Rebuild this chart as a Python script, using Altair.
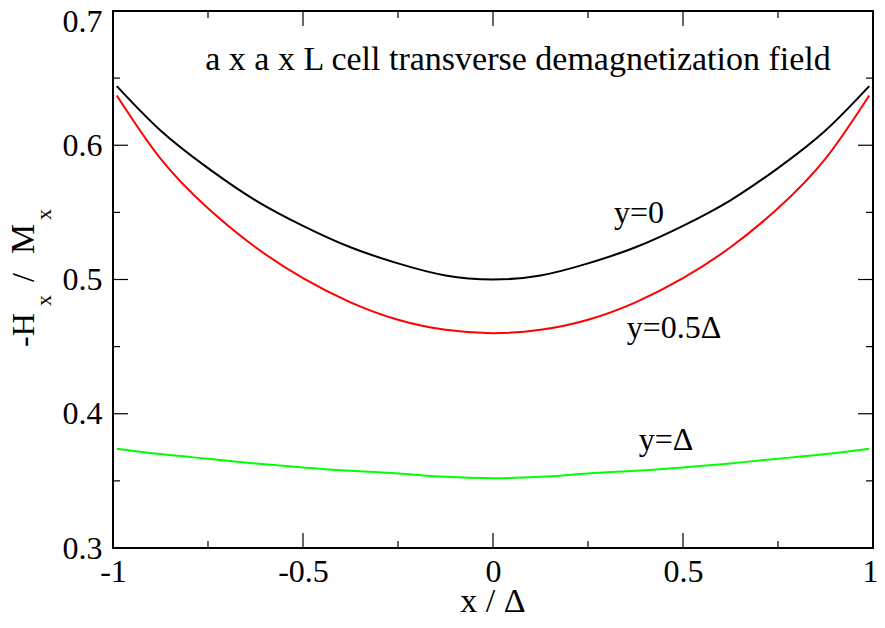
import altair as alt
import pandas as pd

# ---- data ----
x_pts = [-0.99, -0.875, -0.75, -0.625, -0.5, -0.375, -0.25, -0.125, 0.0,
         0.125, 0.25, 0.375, 0.5, 0.625, 0.75, 0.875, 0.99]
y_0 = [0.644, 0.611, 0.583, 0.559, 0.540, 0.524, 0.512, 0.503, 0.500,
       0.503, 0.512, 0.524, 0.540, 0.559, 0.583, 0.611, 0.644]
y_05 = [0.637, 0.590, 0.553, 0.524, 0.501, 0.483, 0.470, 0.4625, 0.460,
        0.4625, 0.470, 0.483, 0.501, 0.524, 0.553, 0.590, 0.637]
y_1 = [0.374, 0.370, 0.3665, 0.363, 0.360, 0.3575, 0.3555, 0.353, 0.352,
       0.353, 0.3555, 0.3575, 0.360, 0.363, 0.3665, 0.370, 0.374]
series = ["y=0", "y=0.5Δ", "y=Δ"]
colors = ["#000000", "#ff0000", "#00ff00"]

x_major = [-1, -0.5, 0, 0.5, 1]
x_minor = [-0.75, -0.25, 0.25, 0.75]
y_major = [0.3, 0.4, 0.5, 0.6, 0.7]
y_minor = [0.35, 0.45, 0.55, 0.65]

W, H = 760, 537
FONT = "Liberation Serif"

rows = []
for name, ys in zip(series, [y_0, y_05, y_1]):
    for xv, yv in zip(x_pts, ys):
        rows.append({"x": xv, "v": yv, "s": name})
df = pd.DataFrame(rows)

xs = alt.Scale(domain=[-1, 1], nice=False, zero=False)
ys_ = alt.Scale(domain=[0.3, 0.7], nice=False, zero=False)

x_axis = alt.Axis(
    values=x_major, labelExpr="'' + datum.value", title=None, ticks=False,
    domain=False, grid=False, labelFont=FONT, labelFontSize=32,
    labelColor="black", labelPadding=8, labelFlush=False,
    labelOverlap=False, labelBound=False,
    labelOffset={"condition": {"test": "datum.value > 0.9", "value": -3}, "value": 0})
y_axis = alt.Axis(
    values=y_major, format=".1f", title=None, ticks=False, domain=False,
    grid=False, labelFont=FONT, labelFontSize=32, labelColor="black",
    labelPadding=11, labelOverlap=False, labelBound=False, labelFlush=False,
    labelOffset={"condition": {"test": "datum.value > 0.65", "value": 10}, "value": 0})

lines = alt.Chart(df).mark_line(strokeWidth=2, interpolate="natural").encode(
    x=alt.X("x:Q", scale=xs, axis=x_axis),
    y=alt.Y("v:Q", scale=ys_, axis=y_axis),
    color=alt.Color("s:N", scale=alt.Scale(domain=series, range=colors), legend=None),
)


def xticks(vals, length):
    d = pd.DataFrame({"x": vals})
    b = alt.Chart(d).mark_rule(color="black", strokeWidth=1.2).encode(
        x=alt.X("x:Q", scale=xs, axis=x_axis), y=alt.value(H), y2=alt.value(H - length))
    t = alt.Chart(d).mark_rule(color="black", strokeWidth=1.2).encode(
        x=alt.X("x:Q", scale=xs, axis=x_axis), y=alt.value(0), y2=alt.value(length))
    return [b, t]


def yticks(vals, length):
    d = pd.DataFrame({"v": vals})
    l = alt.Chart(d).mark_rule(color="black", strokeWidth=1.2).encode(
        y=alt.Y("v:Q", scale=ys_, axis=y_axis), x=alt.value(0), x2=alt.value(length))
    r = alt.Chart(d).mark_rule(color="black", strokeWidth=1.2).encode(
        y=alt.Y("v:Q", scale=ys_, axis=y_axis), x=alt.value(W), x2=alt.value(W - length))
    return [l, r]


tick_layers = xticks(x_major, 15) + xticks(x_minor, 7) + yticks(y_major, 15) + yticks(y_minor, 7)


def txt(s, x, y, size=32, align="center", angle=0):
    return alt.Chart(pd.DataFrame({"label": [s]})).mark_text(
        font=FONT, fontSize=size, color="black", align=align,
        baseline="alphabetic", angle=angle).encode(
        text="label:N", x=alt.value(x), y=alt.value(y))


texts = [
    txt("a x a x L cell transverse demagnetization field", 405, 59, size=34),
    txt("y=0", 526, 212, size=32),
    txt("y=0.5Δ", 561, 327, size=32),
    txt("y=Δ", 553, 439, size=32),
    txt("x / Δ", 380, 601, size=34),
    # y-axis title with subscripts, rotated
    txt("-H", 34 - 113, 347 - 11, size=32, align="left", angle=270),
    txt("x", 51 - 113, 306 - 11, size=22, align="left", angle=270),
    txt("/", 34 - 113, 282 - 11, size=32, align="left", angle=270),
    txt("M", 34 - 113, 254 - 11, size=34, align="left", angle=270),
    txt("x", 51 - 113, 220 - 11, size=22, align="left", angle=270),
]

chart = alt.layer(lines, *tick_layers, *texts).properties(
    width=W, height=H, autosize="none", background="white",
    padding={"left": 105, "top": 3, "right": 4, "bottom": 69},
).configure_view(stroke="black", strokeWidth=2)

chart.save("out.html", embed_options={"renderer": "svg", "actions": False})
